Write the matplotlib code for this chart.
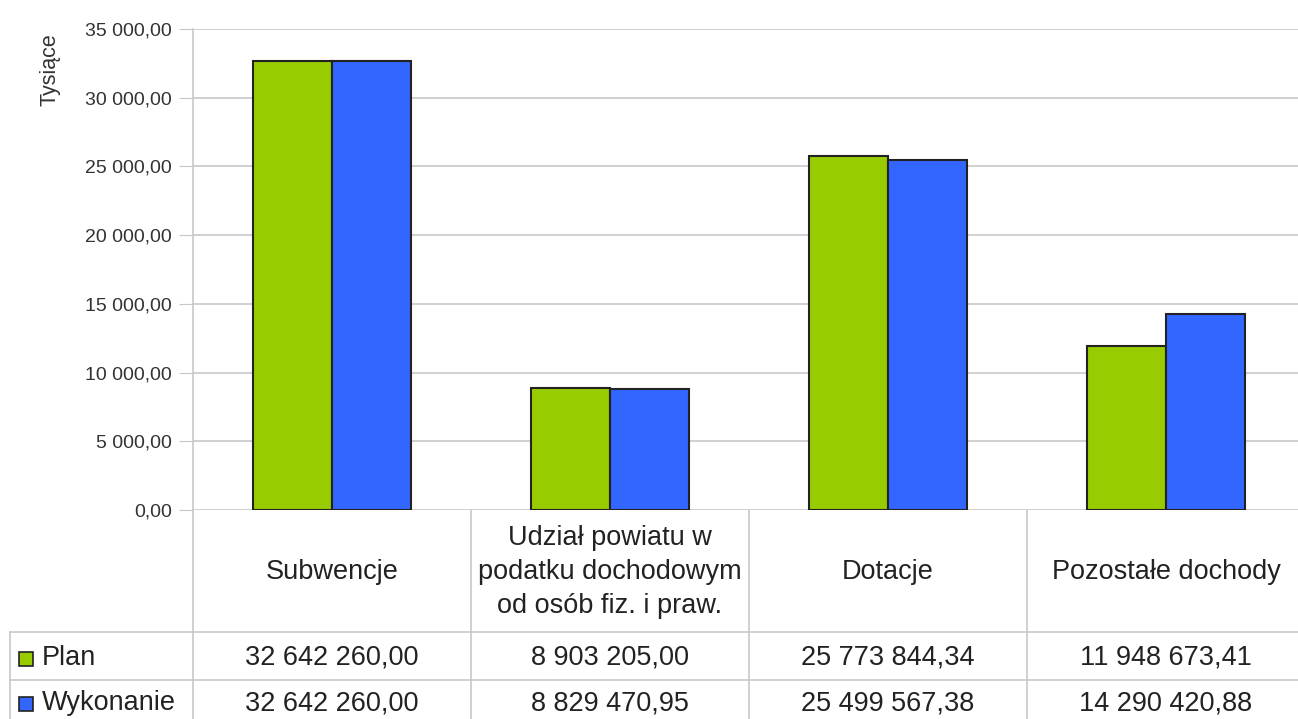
import numpy as np
import matplotlib.pyplot as plt
from matplotlib.ticker import FuncFormatter

plt.rcParams['font.family'] = ['Liberation Sans', 'DejaVu Sans']

kategorie = ['Subwencje', 'Udział powiatu w\npodatku dochodowym\nod osób fiz. i praw.',
             'Dotacje', 'Pozostałe dochody']
plan = [32642260.00, 8903205.00, 25773844.34, 11948673.41]
wykonanie = [32642260.00, 8829470.95, 25499567.38, 14290420.88]
serie = ['Plan', 'Wykonanie']
kolory = ['#99cc00', '#3366ff']

W, H = 1298, 719


def fx(px):
    return px / W


def fy(py):
    return 1 - py / H


def pl(v, dec=2):
    s = f'{v:,.{dec}f}'
    return s.replace(',', ' ').replace('.', ',')


fig = plt.figure(figsize=(W / 100, H / 100), dpi=100)

# wykres słupkowy
ax = fig.add_axes([fx(193), fy(510), fx(1305 - 193), fy(29) - fy(510)])
x = np.arange(len(kategorie))
w = 0.284
ax.bar(x - w / 2, np.array(plan) / 1000, w, color=kolory[0], edgecolor='#222222', linewidth=1.5, zorder=3)
ax.bar(x + w / 2, np.array(wykonanie) / 1000, w, color=kolory[1], edgecolor='#222222', linewidth=1.5, zorder=3)
ax.set_xlim(-0.5, 3.5)
ax.set_ylim(0, 35000)
ax.set_yticks(np.arange(0, 35001, 5000))
ax.yaxis.set_major_formatter(FuncFormatter(lambda v, p: pl(v)))
ax.set_xticks([])
ax.grid(axis='y', color='#c8c8c8', linewidth=1.2, zorder=0)
for s in ['top', 'right', 'bottom']:
    ax.spines[s].set_visible(False)
ax.spines['left'].set_color('#c8c8c8')
ax.spines['left'].set_linewidth(1.2)
ax.tick_params(axis='y', length=10, color='#c8c8c8', labelsize=14, labelcolor='#333333', pad=5)

# tabela pod wykresem
tb = fig.add_axes([0, 0, 1, 1], zorder=-1)
tb.set_xlim(0, W)
tb.set_ylim(H, 0)
tb.axis('off')
tb.text(50, 70, 'Tysiące', rotation=90, ha='center', va='center', fontsize=15.5, color='#333333')
lc = '#c8c8c8'
col_l = [193 + 278 * i for i in range(5)]
tb.plot([10, W], [632, 632], color=lc, lw=1.2)
tb.plot([10, W], [680, 680], color=lc, lw=1.2)
tb.plot([10, 10], [632, H], color=lc, lw=1.2)
for c in col_l[:4]:
    tb.plot([c, c], [510, H], color=lc, lw=1.2)

fs = 19.5
for i, k in enumerate(kategorie):
    cx = col_l[i] + 139
    tb.text(cx, 572, k, ha='center', va='center', fontsize=fs, color='#222222', linespacing=1.4)
    tb.text(cx, 658, pl(plan[i]), ha='center', va='center', fontsize=fs, color='#222222')
    tb.text(cx, 703, pl(wykonanie[i]), ha='center', va='center', fontsize=fs, color='#222222')

for j, (nazwa, yy) in enumerate(zip(serie, [658, 703])):
    tb.add_patch(plt.Rectangle((19, yy - 6), 14, 14, facecolor=kolory[j], edgecolor='#222222', lw=1.2))
    tb.text(42, yy, nazwa, ha='left', va='center', fontsize=fs, color='#222222')

fig.savefig('out.png', dpi=100)
